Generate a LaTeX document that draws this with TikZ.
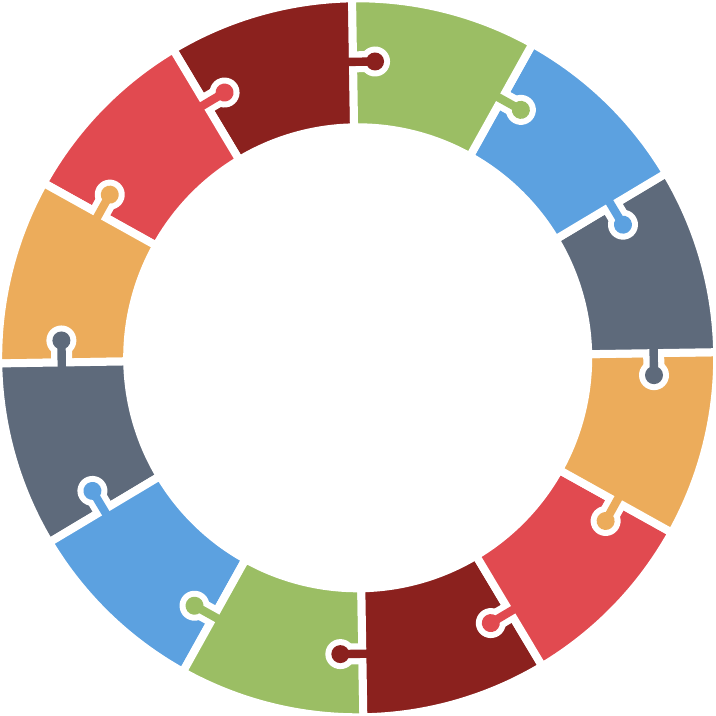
\documentclass[tikz,border=0pt]{standalone}
\definecolor{cDR}{HTML}{8B211E}
\definecolor{cRD}{HTML}{E14A50}
\definecolor{cOR}{HTML}{ECAC5B}
\definecolor{cGY}{HTML}{5E6A7B}
\definecolor{cBL}{HTML}{5CA1E0}
\definecolor{cGR}{HTML}{9BBE64}
\tikzset{
  segfill/.style={draw=white, line width=8pt, line join=miter},
}
\begin{document}
\begin{tikzpicture}[x=1pt,y=1pt]
\useasboundingbox (-357.7,-358.2) rectangle (358.3,357.8);
\def\rot{0.9}
% segments
\foreach \col [count=\i from 0] in {cDR,cRD,cOR,cGY,cBL,cGR,cDR,cRD,cOR,cGY,cBL,cGR}{
  \pgfmathsetmacro\a{90+\rot+30*\i}
  \pgfmathsetmacro\b{\a+30}
  \fill[\col, segfill] (\a:230.5) -- (\a:359.5)
    arc[start angle=\a, end angle=\b, radius=359.5] -- (\b:230.5)
    arc[start angle=\b, end angle=\a, radius=230.5] -- cycle;
}
% tabs
\foreach \col [count=\i from 0] in {cDR,cRD,cOR,cGY,cBL,cGR,cDR,cRD,cOR,cGY,cBL,cGR}{
  \pgfmathsetmacro\a{90+\rot+30*\i}
  \begin{scope}[rotate=\a]
    \fill[white, rounded corners=3pt] (285.5,0) rectangle (306.5,-16);
    \fill[white] (296,-22) circle (15);
    \fill[\col] (291.8,5) rectangle (300.2,-20);
    \fill[\col] (296,-22) circle (9);
  \end{scope}
}
\end{tikzpicture}
\end{document}
